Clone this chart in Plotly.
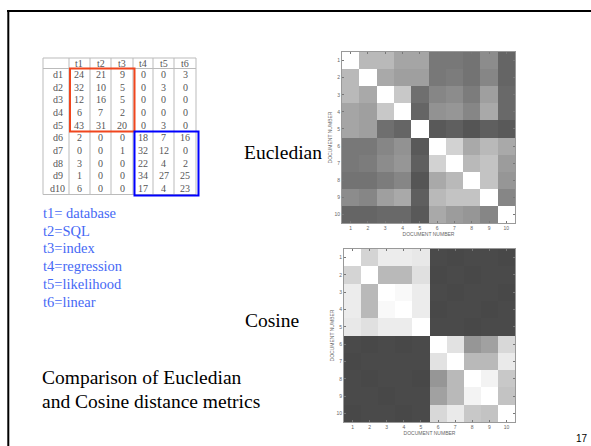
import plotly.graph_objects as go

W, H = 591, 446

# Term-document count table
terms = ["t1", "t2", "t3", "t4", "t5", "t6"]
term_labels = ["t1= database", "t2=SQL", "t3=index", "t4=regression", "t5=likelihood", "t6=linear"]
docs = ["d1", "d2", "d3", "d4", "d5", "d6", "d7", "d8", "d9", "d10"]
counts = [
    [24, 21, 9, 0, 0, 3],
    [32, 10, 5, 0, 3, 0],
    [12, 16, 5, 0, 0, 0],
    [6, 7, 2, 0, 0, 0],
    [43, 31, 20, 0, 3, 0],
    [2, 0, 0, 18, 7, 16],
    [0, 0, 1, 32, 12, 0],
    [3, 0, 0, 22, 4, 2],
    [1, 0, 0, 34, 27, 25],
    [6, 0, 0, 17, 4, 23],
]

doc_numbers = list(range(1, 11))

# Pairwise distances between documents (0 = identical, 1 = most distant)
euclid_dist = [
    [0.00, 0.36, 0.36, 0.46, 0.46, 0.69, 0.69, 0.72, 0.59, 0.79],
    [0.36, 0.00, 0.44, 0.49, 0.49, 0.69, 0.67, 0.72, 0.62, 0.79],
    [0.36, 0.44, 0.00, 0.28, 0.74, 0.62, 0.59, 0.67, 0.49, 0.77],
    [0.46, 0.49, 0.28, 0.00, 0.79, 0.56, 0.54, 0.62, 0.44, 0.77],
    [0.46, 0.49, 0.74, 0.79, 0.00, 0.85, 0.82, 0.87, 0.82, 0.85],
    [0.69, 0.69, 0.62, 0.56, 0.85, 0.00, 0.23, 0.44, 0.36, 0.44],
    [0.69, 0.67, 0.59, 0.54, 0.82, 0.23, 0.00, 0.36, 0.31, 0.51],
    [0.72, 0.72, 0.67, 0.62, 0.87, 0.44, 0.36, 0.00, 0.31, 0.54],
    [0.59, 0.62, 0.49, 0.44, 0.82, 0.36, 0.31, 0.31, 0.00, 0.62],
    [0.79, 0.79, 0.77, 0.77, 0.85, 0.44, 0.51, 0.54, 0.62, 0.00],
]

cosine_dist = [
    [0.00, 0.22, 0.10, 0.10, 0.12, 0.93, 0.94, 0.93, 0.93, 0.94],
    [0.22, 0.00, 0.36, 0.36, 0.16, 0.94, 0.93, 0.94, 0.93, 0.93],
    [0.10, 0.36, 0.00, 0.03, 0.10, 0.93, 0.94, 0.93, 0.93, 0.94],
    [0.10, 0.36, 0.03, 0.00, 0.10, 0.94, 0.93, 0.93, 0.94, 0.93],
    [0.12, 0.16, 0.10, 0.10, 0.00, 0.93, 0.93, 0.94, 0.93, 0.93],
    [0.93, 0.94, 0.93, 0.94, 0.93, 0.00, 0.15, 0.54, 0.48, 0.20],
    [0.94, 0.93, 0.93, 0.93, 0.93, 0.15, 0.00, 0.36, 0.36, 0.11],
    [0.93, 0.94, 0.93, 0.93, 0.94, 0.54, 0.36, 0.00, 0.06, 0.28],
    [0.93, 0.93, 0.94, 0.93, 0.93, 0.48, 0.36, 0.06, 0.00, 0.31],
    [0.94, 0.93, 0.93, 0.94, 0.93, 0.20, 0.11, 0.28, 0.31, 0.00],
]


def px(x):
    return x / W


def py(y):
    return 1 - y / H


gray_scale = [[0.0, "rgb(255,255,255)"], [1.0, "rgb(60,60,60)"]]

fig = go.Figure()
fig.add_trace(go.Heatmap(x=doc_numbers, y=doc_numbers, z=euclid_dist, colorscale=gray_scale,
                         zmin=0, zmax=1, showscale=False, xaxis="x", yaxis="y"))
fig.add_trace(go.Heatmap(x=doc_numbers, y=doc_numbers, z=cosine_dist, colorscale=gray_scale,
                         zmin=0, zmax=1, showscale=False, xaxis="x2", yaxis="y2"))

axis_font = dict(size=5, color="#666666", family="Liberation Sans")


def doc_axis(domain, reverse=False, anchor=None):
    return dict(
        domain=domain,
        range=[10.5, 0.5] if reverse else [0.5, 10.5],
        tickvals=doc_numbers,
        tickfont=axis_font,
        ticks="inside", ticklen=2, tickcolor="#777777",
        showline=True, linecolor="#999999", linewidth=1, mirror="ticks",
        showgrid=False, zeroline=False,
        anchor=anchor,
        title=dict(text="DOCUMENT NUMBER", font=axis_font, standoff=1),
    )


annotations = []
shapes = []

# Slide frame lines
shapes.append(dict(type="line", xref="paper", yref="paper", x0=px(7), x1=px(591), y0=py(11), y1=py(11),
                   line=dict(color="black", width=2)))
shapes.append(dict(type="line", xref="paper", yref="paper", x0=px(8.3), x1=px(8.3), y0=py(10), y1=py(446),
                   line=dict(color="black", width=2)))

# Count table
col_edges = [43, 69, 90, 111, 133, 153, 174, 196]
table_top, header_bottom, table_bottom = 58, 68.5, 194.5
row_h = 12.6
grid = dict(color="#bbbbbb", width=1)
for xe in col_edges:
    shapes.append(dict(type="line", xref="paper", yref="paper", x0=px(xe), x1=px(xe),
                       y0=py(table_top), y1=py(table_bottom), line=grid))
for ye in (table_top, header_bottom, table_bottom):
    shapes.append(dict(type="line", xref="paper", yref="paper", x0=px(col_edges[0]), x1=px(col_edges[-1]),
                       y0=py(ye), y1=py(ye), line=grid))

table_font = dict(family="Liberation Serif", size=10, color="#555555")
col_centers = [(col_edges[i] + col_edges[i + 1]) / 2 for i in range(len(col_edges) - 1)]
for j, t in enumerate(terms):
    annotations.append(dict(x=px(col_centers[j + 1]), y=py(63.3), text=t, showarrow=False,
                            xref="paper", yref="paper", xanchor="center", yanchor="middle", font=table_font))
for i, d in enumerate(docs):
    yc = header_bottom + row_h * (i + 0.5)
    annotations.append(dict(x=px(col_centers[0] + 2), y=py(yc), text=d, showarrow=False,
                            xref="paper", yref="paper", xanchor="center", yanchor="middle", font=table_font))
    for j, v in enumerate(counts[i]):
        annotations.append(dict(x=px(col_centers[j + 1]), y=py(yc), text=str(v), showarrow=False,
                                xref="paper", yref="paper", xanchor="center", yanchor="middle", font=table_font))

# Highlighted topic blocks
split_y = header_bottom + row_h * 5
shapes.append(dict(type="rect", xref="paper", yref="paper", x0=px(70), x1=px(134.5), y0=py(header_bottom),
                   y1=py(split_y), line=dict(color="rgb(240,70,30)", width=2)))
shapes.append(dict(type="rect", xref="paper", yref="paper", x0=px(134.5), x1=px(198.5), y0=py(split_y),
                   y1=py(195.5), line=dict(color="rgb(0,0,255)", width=2)))

# Term legend
for i, lab in enumerate(term_labels):
    annotations.append(dict(x=px(41), y=py(213 + 17.7 * i), text=lab, showarrow=False,
                            xref="paper", yref="paper", xanchor="left", yanchor="middle",
                            font=dict(family="Liberation Serif", size=14.5, color="rgb(70,105,245)")))

big_font = dict(family="Liberation Serif", size=19.5, color="black")
for txt, x, y in [("Eucledian", 242, 152), ("Cosine", 243, 320),
                  ("Comparison of Eucledian", 40, 377), ("and Cosine distance metrics", 40, 401)]:
    annotations.append(dict(x=px(x), y=py(y), text=txt, showarrow=False, xref="paper", yref="paper",
                            xanchor="left", yanchor="middle", font=big_font))

annotations.append(dict(x=px(590), y=py(438), text="17", showarrow=False, xref="paper", yref="paper",
                        xanchor="right", yanchor="middle",
                        font=dict(family="Liberation Sans", size=10, color="black")))

fig.update_layout(
    width=W, height=H,
    margin=dict(l=0, r=0, t=0, b=0),
    paper_bgcolor="white", plot_bgcolor="white",
    showlegend=False,
    xaxis=doc_axis([px(342), px(515)], anchor="y"),
    yaxis=doc_axis([py(223), py(52)], reverse=True, anchor="x"),
    xaxis2=doc_axis([px(344), px(515)], anchor="y2"),
    yaxis2=doc_axis([py(422), py(249)], reverse=True, anchor="x2"),
    annotations=annotations,
    shapes=shapes,
)

fig.write_html("out.html")
